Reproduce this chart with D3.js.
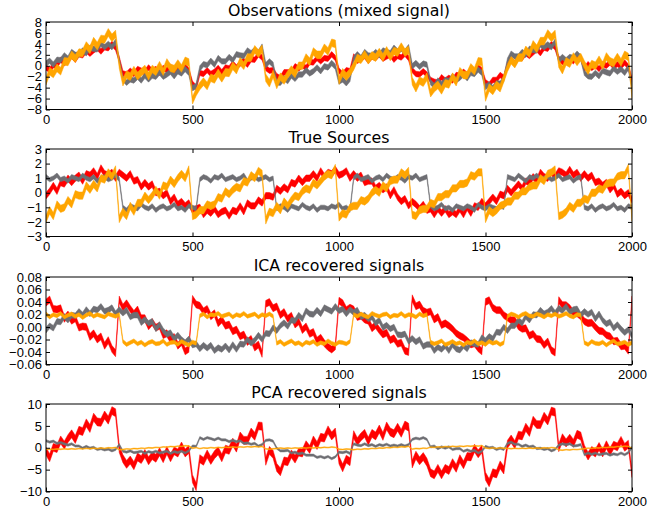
<!DOCTYPE html>
<html lang="en">
<head>
<meta charset="UTF-8">
<title>ICA vs PCA - blind source separation</title>
<script src="https://d3js.org/d3.v7.min.js"></script>
<style>
  body { margin: 0; background: #fff; }
  svg { display: block; font-family: "DejaVu Sans", sans-serif; }
  .axis text { font-size: 13px; fill: #000; }
  .title { font-size: 15.8px; fill: #000; }
</style>
</head>
<body>
<svg width="650" height="511"></svg>
<script>
// sample index along x (one reading every 12.5 samples, 0..2000)
const sampleIndex = d3.range(0, 2000.1, 12.5);
const xTicks = [0, 500, 1000, 1500, 2000];

const titles = ["Observations (mixed signal)", "True Sources", "ICA recovered signals", "PCA recovered signals"];
const colors = ["#ff0000", "#6e6e73", "#ffa500"];

// Observations (mixed signal)
const obsRed = [-0.3,-0.8,0.1,0.1,1.1,0.5,1.0,1.8,1.1,2.1, 1.9,2.8,2.2,2.8,3.3,2.6,3.4,3.2,4.0,3.3, 1.2,-1.4,-1.6,-0.9,-1.5,-0.6,-0.9,-1.2,-0.3,-1.0, -0.6,-1.3,-0.4,-0.8,-0.2,-1.0,-0.5,-0.8,-0.1,-0.9, -3.3,-4.0,-1.3,-1.5,-0.8,-1.5,-1.1,-0.4,-1.2,-0.3, -0.5,0.4,-0.3,0.4,0.9,0.2,1.2,1.1,2.1,1.5, -0.4,-0.9,-0.8,-1.9,-2.3,-1.2,-1.2,-1.2,-0.1,-0.5, 0.1,-0.4,0.7,0.6,1.4,0.8,1.4,1.3,2.1,1.4, -0.9,-1.6,-0.8,-1.0,1.7,0.9,1.3,1.8,0.9,1.7, 1.4,2.1,1.3,1.7,2.0,1.1,1.8,1.5,2.2,1.4, -0.8,-1.5,-1.6,-1.0,-1.6,-2.6,-2.9,-3.1,-2.1,-2.7, -2.2,-2.7,-1.7,-1.8,-1.1,-1.7,-1.0,-1.1,-0.3,-0.8, -3.0,-3.5,-2.6,-2.6,-1.7,-2.2,0.3,1.1,0.4,1.5, 1.4,2.3,1.8,2.4,3.0,2.3,3.3,3.1,4.0,3.4, 1.3,0.7,0.7,1.4,0.8,1.8,1.5,-0.6,0.3,-0.4, 0.1,-0.6,0.3,0.0,0.6,-0.2,0.3,-0.1,0.6,-0.2, -2.7];
const obsGray = [0.4,0.9,0.2,1.1,1.0,1.9,1.3,2.5,2.0,2.0, 2.8,2.3,3.3,3.1,3.0,4.0,3.4,4.0,3.4,4.4, 0.9,-2.4,-3.1,-2.5,-2.7,-2.0,-2.7,-1.8,-2.5,-1.8, -2.0,-1.2,-2.0,-1.6,-1.1,-1.9,-1.0,-1.4,-0.6,-1.3, -4.1,-3.7,-0.5,0.3,0.1,0.9,0.2,1.4,0.8,0.8, 1.6,1.0,2.1,1.9,1.8,2.8,2.3,2.9,2.4,3.5, 0.1,0.8,0.2,-3.0,-3.1,-2.3,-2.8,-1.8,-2.4,-1.6, -1.6,-0.8,-1.4,-1.0,-0.3,-1.0,-0.1,-0.3,0.5,-0.2, -2.9,-2.5,-3.2,-2.4,1.3,2.1,1.4,2.5,1.9,1.8, 2.5,1.9,2.8,2.5,2.3,3.3,2.6,3.1,2.5,3.4, -0.1,0.5,-0.2,0.4,0.2,-3.0,-3.7,-2.7,-3.4,-2.6, -2.8,-1.9,-2.6,-2.2,-1.5,-2.3,-1.3,-1.5,-0.7,-1.3, -3.9,-3.4,-4.1,-3.2,-3.3,-2.4,0.9,2.2,1.7,1.7, 2.5,2.0,3.1,2.9,2.8,3.9,3.4,3.9,3.4,4.4, 0.9,1.6,1.0,1.6,1.4,2.2,1.5,-1.3,-1.9,-2.0, -1.3,-1.9,-0.9,-1.2,-1.4,-0.5,-1.1,-0.6,-1.3,-0.3, -3.9];
const obsOrange = [-2.8,-1.0,-1.5,-0.4,-1.0,0.8,0.7,2.0,1.3,2.4, 2.3,3.7,2.9,4.5,3.6,4.9,4.8,6.1,5.1,5.8, 0.2,-3.0,-1.6,-2.0,-0.8,-1.9,-1.2,-0.6,-1.9,-0.6, -1.1,0.1,-1.1,0.6,-0.4,-0.6,0.4,-0.5,0.9,0.6, -6.3,-4.8,-3.7,-2.9,-3.7,-2.2,-2.5,-1.3,-2.3,-1.2, -1.3,0.0,-0.8,0.8,0.0,1.5,1.5,3.0,2.2,3.1, -2.2,-3.2,-1.5,-3.5,-2.0,-2.7,-1.6,-0.7,-1.5,0.0, 0.0,1.5,0.7,2.6,2.0,2.0,3.3,2.6,4.2,4.0, -2.7,-1.2,-2.0,-1.2,-0.1,1.4,1.1,2.1,1.0,1.9, 1.5,2.5,1.5,2.8,1.6,2.7,2.4,3.5,2.4,2.9, -2.8,-4.1,-2.7,-3.1,-2.0,-5.0,-4.1,-3.5,-4.5,-3.2, -3.4,-2.0,-3.0,-1.0,-1.7,-1.7,-0.3,-1.0,0.8,0.7, -5.8,-4.0,-4.6,-3.5,-4.1,-2.3,-0.4,1.0,0.3,1.5, 1.5,2.9,2.2,3.9,3.1,4.5,4.5,5.9,5.1,5.8, 0.4,-0.8,0.8,0.4,1.7,0.7,1.6,0.2,-0.9,0.3, 0.0,1.1,0.0,1.7,0.8,0.5,1.6,0.6,2.0,1.6, -5.3];
const obsNoise = [0.5, 0.5, 0.7];

// True sources
const srcRed = [-0.2,0.1,0.5,0.1,0.7,0.6,1.0,0.7,1.0,1.2, 0.8,1.3,1.2,1.5,1.1,1.7,1.3,1.2,1.4,1.0, 1.4,1.2,1.0,1.3,0.8,0.9,0.4,0.7,0.4,0.6, 0.0,0.1,-0.2,0.0,-0.6,-0.3,-0.8,-0.6,-0.9,-0.7, -1.2,-1.1,-1.0,-1.5,-1.2,-1.4,-1.1,-1.5,-1.3,-1.2, -1.6,-1.2,-1.3,-0.9,-1.3,-0.7,-0.9,-0.9,-0.5,-0.7, -0.2,-0.2,-0.3,0.3,0.1,0.4,0.2,0.7,0.6,1.0, 0.7,1.0,1.0,1.3,1.0,1.5,1.1,1.4,1.3,1.6, 1.2,1.3,1.5,1.0,1.3,1.0,1.2,0.7,0.8,0.8, 0.3,0.5,0.2,0.4,-0.2,0.2,-0.3,-0.6,-0.4,-0.9, -0.6,-0.8,-1.1,-0.8,-1.2,-1.1,-1.5,-1.1,-1.4,-1.1, -1.5,-1.3,-1.5,-1.1,-1.5,-1.0,-1.4,-0.9,-1.0,-0.6, -0.9,-0.6,-0.3,-0.6,-0.1,-0.2,0.3,0.0,0.3,0.6, 0.3,0.8,0.7,1.1,0.8,1.4,1.1,1.0,1.4,1.1, 1.5,1.4,1.2,1.6,1.2,1.4,1.0,1.3,1.0,1.2, 0.7,0.8,0.5,0.7,0.2,0.5,-0.1,0.1,-0.2,0.0, -0.5];
const srcGray = [1.1,0.9,1.0,1.2,0.9,1.0,0.8,1.1,1.0,0.9,1.2,1.0,0.9,1.1,0.8,1.0,1.1,0.9,1.0,1.2,0.9,
  -1.0,-1.2,-0.9,-1.0,-1.1,-0.8,-1.0,-1.1,-0.9,-1.2,-1.0,-0.9,-1.1,-1.0,-0.8,-1.1,-1.0,-1.2,-0.9,-1.0,-1.1,
  0.9,1.1,1.0,0.8,1.1,1.0,1.2,0.9,1.0,1.1,0.9,1.0,1.2,0.8,1.0,1.1,0.9,1.0,1.1,0.9,1.0,
  -1.1,-0.9,-1.0,-1.2,-0.9,-1.0,-1.1,-0.8,-1.0,-1.1,-0.9,-1.2,-1.0,-1.0,-1.1,-0.9,-1.0,-0.8,-1.1,-1.0,-1.2,
  1.0,1.2,0.9,1.0,1.1,0.8,1.0,1.1,0.9,1.2,1.0,0.9,1.1,1.0,0.8,1.1,1.0,1.2,0.9,1.0,1.1,
  -0.9,-1.1,-1.0,-0.8,-1.1,-1.0,-1.2,-0.9,-1.0,-1.1,-0.9,-1.0,-1.2,-0.8,-1.0,-1.1,-0.9,-1.0,-1.1,-0.9,-1.0,
  1.1,1.0,0.9,1.2,1.0,0.8,1.1,1.0,1.2,0.9,1.0,1.1,0.9,1.0,1.2,0.9,1.0,1.1,0.8,1.0,1.1,
  -1.0,-1.1,-0.9,-1.2,-1.0,-0.9,-1.1,-1.0,-0.8,-1.1,-1.0,-1.2,-0.9,-1.0];
const srcOrange = [-1.8,-1.2,-1.6,-0.8,-1.1,-1.0,-0.5,-0.8,-0.1,-0.2, -0.2,0.5,0.2,0.6,0.3,1.0,0.9,1.4,1.1,1.6,
  -1.8,-1.3,-1.6,-0.9,-1.3,-0.7,-0.7,-0.2,-0.5,-0.2, 0.2,-0.2,0.5,0.4,0.9,0.6,1.0,1.3,1.0,1.6,
  -1.6,-1.5,-1.2,-1.2,-0.8,-0.9,-0.8,-0.3,-0.4,0.1, -0.1,0.2,0.4,0.3,0.8,0.7,1.2,1.0,1.5,1.3,
  -1.9,-1.3,-1.4,-0.9,-1.2,-0.6,-0.9,-0.5,-0.2,-0.3, 0.1,0.3,0.2,0.7,0.5,0.8,1.1,1.3,1.2,1.7,
  -1.7,-1.4,-1.5,-1.0,-0.9,-0.9,-0.5,-0.6,-0.4,0.0, 0.2,0.0,0.5,0.3,0.8,0.9,0.9,1.4,1.2,1.5,
  -1.5,-1.6,-1.2,-1.1,-1.1,-0.7,-0.8,-0.3,-0.3,-0.1, -0.1,0.3,0.3,0.6,0.6,0.7,1.2,1.1,1.4,1.4,
  -1.8,-1.2,-1.4,-1.2,-0.9,-0.8,-0.6,-0.6,-0.2,-0.2, 0.1,0.1,0.4,0.5,0.5,1.0,0.8,1.3,1.4,1.6,
  -1.6,-1.5,-1.3,-0.9,-1.1,-0.7,-0.7,-0.4,-0.5,0.0, 0.0,0.3,0.2,0.6,0.7,0.7,1.1,1.2,1.2,1.7,
  -1.7];
const srcNoise = [0.22, 0.15, 0.25];

// ICA recovered signals
const icaRed = [0.039,0.044,0.029,0.028,0.030,0.013,0.020,0.010,0.014,-0.001, 0.001,0.000,-0.016,-0.010,-0.020,-0.015,-0.030,-0.021,-0.035,-0.042,
  0.044,0.031,0.038,0.029,0.021,0.028,0.014,0.014,0.001,0.008, -0.001,0.002,-0.013,-0.010,-0.020,-0.016,-0.030,-0.024,-0.039,-0.035,
  0.045,0.036,0.034,0.025,0.029,0.017,0.022,0.006,0.012,0.002, 0.004,-0.007,-0.004,-0.015,-0.012,-0.024,-0.019,-0.033,-0.028,-0.043,
  0.037,0.040,0.030,0.033,0.019,0.024,0.013,0.018,0.004,0.009, -0.005,0.001,-0.011,-0.008,-0.022,-0.017,-0.026,-0.032,-0.036,-0.031,
  0.042,0.038,0.027,0.031,0.028,0.016,0.018,0.012,0.010,-0.002, 0.003,-0.005,-0.012,-0.009,-0.021,-0.018,-0.027,-0.025,-0.038,-0.040,
  0.046,0.033,0.036,0.026,0.023,0.025,0.012,0.016,0.003,0.006, 0.002,-0.003,-0.010,-0.014,-0.017,-0.022,-0.028,-0.026,-0.034,-0.039,
  0.040,0.043,0.031,0.027,0.027,0.019,0.015,0.011,0.011,0.001, -0.003,-0.002,-0.014,-0.011,-0.019,-0.020,-0.029,-0.023,-0.037,-0.041,
  0.043,0.035,0.035,0.030,0.022,0.022,0.017,0.009,0.006,0.007, 0.000,-0.006,-0.007,-0.013,-0.015,-0.023,-0.022,-0.031,-0.030,-0.038,
  0.044];
const icaGray = [-0.005,0.002,-0.002,0.009,0.008,0.017,0.011,0.019,0.018,0.025, 0.019,0.028,0.021,0.029,0.027,0.033,0.025,0.027,0.031,0.021, 0.028,0.022,0.027,0.016,0.019,0.019,0.007,0.012,0.006,0.009, -0.003,0.004,-0.006,-0.012,-0.009,-0.019,-0.013,-0.020,-0.025,-0.019, -0.029,-0.027,-0.035,-0.029,-0.034,-0.029,-0.038,-0.033,-0.036,-0.030, -0.037,-0.028,-0.036,-0.027,-0.028,-0.020,-0.026,-0.021,-0.013,-0.020, -0.010,-0.011,-0.001,-0.006,0.002,0.007,0.001,0.011,0.010,0.019, 0.013,0.026,0.021,0.020,0.027,0.021,0.031,0.028,0.025,0.033, 0.026,0.029,0.021,0.028,0.023,0.027,0.016,0.019,0.013,0.016, 0.006,0.011,-0.001,0.003,-0.003,0.000,-0.012,-0.013,-0.011,-0.023, -0.018,-0.024,-0.020,-0.031,-0.028,-0.028,-0.038,-0.032,-0.036,-0.030, -0.038,-0.028,-0.035,-0.037,-0.030,-0.035,-0.025,-0.027,-0.028,-0.017, -0.022,-0.015,-0.019,-0.008,-0.009,0.000,-0.006,0.002,0.002,0.011, 0.006,0.017,0.011,0.020,0.019,0.027,0.021,0.024,0.030,0.022, 0.030,0.026,0.033,0.024,0.028,0.029,0.019,0.025,0.020,0.024, 0.013,0.021,0.011,0.005,0.008,-0.002,0.004,-0.003,-0.009,-0.004, -0.014];
const icaOrange = [0.021,0.016,0.020,0.018,0.022,0.016,0.019,0.021,0.017,0.020,0.015,0.019,0.022,0.017,0.020,0.018,0.016,0.021,0.019,0.017,0.020,
  -0.023,-0.028,-0.025,-0.022,-0.027,-0.024,-0.029,-0.025,-0.023,-0.027,-0.026,-0.022,-0.028,-0.025,-0.024,-0.028,-0.023,-0.026,-0.029,-0.024,-0.026,
  0.018,0.021,0.016,0.020,0.019,0.022,0.017,0.019,0.021,0.016,0.020,0.018,0.022,0.017,0.019,0.021,0.016,0.020,0.018,0.021,0.017,
  -0.026,-0.023,-0.028,-0.025,-0.022,-0.027,-0.025,-0.029,-0.024,-0.026,-0.023,-0.028,-0.025,-0.027,-0.022,-0.026,-0.028,-0.024,-0.025,-0.027,-0.023,
  0.020,0.017,0.021,0.018,0.016,0.022,0.019,0.017,0.020,0.021,0.016,0.019,0.018,0.022,0.017,0.020,0.019,0.016,0.021,0.018,0.020,
  -0.024,-0.027,-0.025,-0.022,-0.028,-0.026,-0.023,-0.027,-0.025,-0.029,-0.024,-0.026,-0.022,-0.027,-0.025,-0.028,-0.023,-0.026,-0.024,-0.028,-0.025,
  0.017,0.021,0.019,0.016,0.020,0.022,0.018,0.017,0.021,0.019,0.016,0.020,0.018,0.021,0.017,0.019,0.022,0.018,0.016,0.020,0.019,
  -0.025,-0.028,-0.023,-0.026,-0.027,-0.024,-0.029,-0.025,-0.022,-0.027,-0.026,-0.024,-0.028,-0.025];
const icaNoise = [0.0055, 0.0045, 0.003];

// PCA recovered signals
const pcaRed = [-0.8,-2.3,0.1,-0.2,1.8,0.6,2.1,3.2,1.9,4.0, 3.7,5.7,4.4,7.0,5.9,5.8,7.5,6.3,8.5,8.0, -0.2,-2.5,-3.8,-2.8,-4.1,-2.1,-2.7,-1.3,-3.0,-1.8, -2.4,-0.9,-2.5,-0.6,-2.3,-0.7,-1.2,0.4,-1.2,-0.4, -7.1,-8.9,-2.5,-3.1,-1.4,-2.9,-1.6,-0.7,-2.3,-0.3, -0.6,1.3,-0.1,2.7,1.7,1.7,3.6,2.6,5.0,4.9, -3.1,-0.6,-1.5,-4.5,-5.5,-3.0,-3.2,-1.4,-2.6,-1.0, -1.2,0.7,-0.4,1.8,0.5,2.4,2.2,4.1,2.7,3.6, -2.8,-4.6,-2.6,-3.2,3.0,1.4,2.5,3.3,1.5,3.3, 2.7,4.3,2.6,5.0,3.6,3.2,4.7,3.3,5.2,4.7, -3.7,-1.7,-3.0,-2.0,-3.3,-5.7,-6.2,-4.7,-6.2,-4.7, -5.2,-3.4,-4.7,-2.5,-3.9,-2.0,-2.1,-0.1,-1.4,-0.3, -6.5,-8.0,-5.7,-6.0,-3.9,-5.1,0.8,2.0,0.7,2.9, 2.7,4.7,3.5,6.3,5.3,5.3,7.2,6.1,8.4,8.1, 0.0,2.3,1.1,2.2,1.0,3.1,2.7,-0.3,-1.9,-0.6, -1.2,0.3,-1.2,0.7,-0.9,0.6,0.2,1.7,0.1,0.8, -5.9];
const pcaGray = [1.6,1.3,1.5,1.0,1.2,0.9,0.6,0.9,0.4,0.4, -0.1,0.3,-0.1,0.1,-0.4,-0.2,-0.5,-0.3,-0.7,-0.4, 0.7,-0.8,-1.0,-0.7,-1.1,-1.0,-0.8,-1.3,-0.9,-1.1, -0.8,-1.2,-1.0,-0.8,-1.3,-0.9,-1.1,-0.8,-1.2,-0.7, 0.4,0.3,2.3,1.9,2.3,2.1,1.8,2.2,1.8,1.8, 1.4,1.7,1.4,1.6,1.0,1.1,0.8,1.0,0.4,0.7, 1.7,1.8,1.5,-0.1,-0.7,-0.7,-0.6,-1.2,-1.0,-1.4, -1.2,-1.7,-1.7,-1.7,-2.2,-2.0,-2.3,-2.0,-2.5,-2.1, -1.0,-1.1,-0.9,-1.3,0.9,0.6,0.5,0.9,0.5,0.7, 0.3,0.7,0.5,0.8,0.4,0.6,0.4,0.7,0.4,0.7, 1.9,2.2,2.0,2.3,1.9,0.2,0.4,-0.2,0.2,-0.1, 0.2,-0.4,-0.2,-0.2,-0.8,-0.5,-0.8,-0.6,-1.2,-0.8, 0.3,0.0,0.1,-0.4,-0.1,-0.4,1.0,1.3,0.8,0.8, 0.3,0.6,0.2,0.4,-0.2,-0.1,-0.4,-0.2,-0.7,-0.4, 0.6,0.9,0.7,0.9,0.4,0.5,0.7,-1.6,-1.2,-1.5, -1.2,-1.6,-1.4,-1.3,-1.7,-1.4,-1.6,-1.2,-1.6,-1.1, 0.1];
const pcaOrange = [-0.40,-0.30,-0.38,-0.28,-0.35,-0.25,-0.33,-0.23,-0.31,-0.20, -0.27,-0.15,-0.23,-0.10,-0.19,-0.06,-0.14,0.00,-0.07,0.06, -0.47,-0.40,-0.26,-0.32,-0.18,-0.24,-0.09,-0.15,0.00,-0.06, 0.09,0.03,0.19,0.13,0.28,0.22,0.37,0.31,0.46,0.40, -0.12,0.02,-0.19,-0.04,-0.11,0.03,-0.05,0.08,0.00,0.13, 0.06,0.18,0.10,0.21,0.13,0.25,0.17,0.28,0.20,0.30, -0.25,-0.34,-0.23,-0.18,-0.07,-0.16,-0.05,-0.14,-0.03,-0.11, 0.00,-0.08,0.03,-0.05,0.06,-0.01,0.11,0.04,0.16,0.09, -0.34,-0.41,-0.29,-0.35,-0.45,-0.31,-0.37,-0.23,-0.29,-0.14, -0.20,-0.05,-0.10,0.04,-0.01,0.13,0.08,0.23,0.18,0.32, -0.30,-0.16,-0.22,-0.08,-0.14,0.14,0.08,0.21,0.14,0.27, 0.21,0.33,0.26,0.38,0.30,0.42,0.34,0.46,0.38,0.49, -0.06,-0.15,-0.04,-0.13,-0.02,-0.10,-0.13,-0.22,-0.12,-0.21, -0.10,-0.18,-0.07,-0.16,-0.05,-0.13,-0.01,-0.09,0.03,-0.04, -0.48,-0.56,-0.44,-0.50,-0.37,-0.43,-0.30,-0.22,-0.09,-0.14, 0.00,-0.05,0.09,0.03,0.17,0.12,0.27,0.22,0.37,0.31, -0.11];
const pcaNoise = [0.9, 0.25, 0.1];

// y ticks per panel
const obsTicks = [-8, -6, -4, -2, 0, 2, 4, 6, 8];
const srcTicks = [-3, -2, -1, 0, 1, 2, 3];
const icaTicks = [-0.06, -0.04, -0.02, 0, 0.02, 0.04, 0.06, 0.08];
const pcaTicks = [-10, -5, 0, 5, 10];

const panels = [
  { series: [obsRed, obsGray, obsOrange], noise: obsNoise, domain: [-8, 8], ticks: obsTicks, fmt: d3.format("d") },
  { series: [srcRed, srcGray, srcOrange], noise: srcNoise, domain: [-3, 3], ticks: srcTicks, fmt: d3.format("d") },
  { series: [icaRed, icaGray, icaOrange], noise: icaNoise, domain: [-0.06, 0.08], ticks: icaTicks, fmt: d3.format(".2f") },
  { series: [pcaRed, pcaGray, pcaOrange], noise: pcaNoise, domain: [-10, 10], ticks: pcaTicks, fmt: d3.format("d") }
];

const svg = d3.select("svg");
svg.append("rect").attr("width", 650).attr("height", 511).attr("fill", "#fff");

const left = 46, right = 632, plotH = 87.5;
const tops = [22, 149, 277, 404];

const x = d3.scaleLinear().domain([0, 2000]).range([left, right]);

panels.forEach((p, idx) => {
  const top = tops[idx];
  const bottom = top + plotH;
  const y = d3.scaleLinear().domain(p.domain).range([bottom, top]);

  svg.append("clipPath").attr("id", "clip" + idx)
    .append("rect")
    .attr("x", left).attr("y", top)
    .attr("width", right - left).attr("height", plotH);

  const g = svg.append("g").attr("clip-path", "url(#clip" + idx + ")");

  // each signal: a noisy band around the readings
  p.series.forEach((vals, s) => {
    const w = p.noise[s];
    const band = d3.area()
      .x((d, i) => x(sampleIndex[i]))
      .y0(d => y(d - w))
      .y1(d => y(d + w));
    g.append("path")
      .datum(vals)
      .attr("d", band)
      .attr("fill", colors[s])
      .attr("stroke", colors[s])
      .attr("stroke-width", 0.5)
      .attr("stroke-linejoin", "round");
  });

  // ticks pointing inward on all four sides
  const bottomAxis = d3.axisBottom(x).tickValues(xTicks).tickSizeInner(-4).tickSizeOuter(0).tickPadding(5).tickFormat(d3.format("d"));
  const topAxis = d3.axisTop(x).tickValues(xTicks).tickSizeInner(-4).tickSizeOuter(0).tickFormat("");
  const leftAxis = d3.axisLeft(y).tickValues(p.ticks).tickSizeInner(-4).tickSizeOuter(0).tickPadding(4).tickFormat(p.fmt);
  const rightAxis = d3.axisRight(y).tickValues(p.ticks).tickSizeInner(-4).tickSizeOuter(0).tickFormat("");

  [[bottomAxis, `translate(0,${bottom})`], [topAxis, `translate(0,${top})`],
   [leftAxis, `translate(${left},0)`], [rightAxis, `translate(${right},0)`]].forEach(([ax, tr]) => {
    const a = svg.append("g").attr("class", "axis").attr("transform", tr).call(ax);
    a.select(".domain").remove();
    a.selectAll("text").attr("font-family", null).attr("font-size", null);
    a.selectAll("line").attr("stroke", "#000");
  });

  svg.append("rect")
    .attr("x", left).attr("y", top)
    .attr("width", right - left).attr("height", plotH)
    .attr("fill", "none").attr("stroke", "#000").attr("stroke-width", 1);

  svg.append("text")
    .attr("class", "title")
    .attr("x", (left + right) / 2)
    .attr("y", top - 6)
    .attr("text-anchor", "middle")
    .text(titles[idx]);
});
</script>
</body>
</html>
